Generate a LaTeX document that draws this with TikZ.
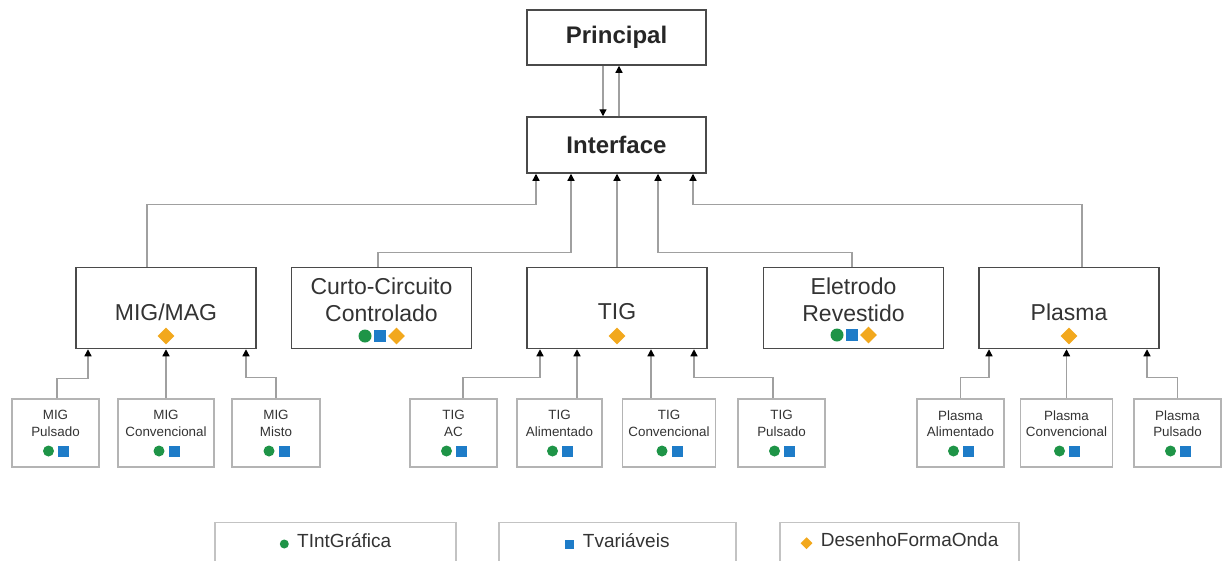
\documentclass[tikz,border=0pt]{standalone}
\usepackage{fontspec}
\setmainfont{Liberation Sans}
\usetikzlibrary{arrows.meta,shapes.geometric}
\definecolor{lgreen}{HTML}{1E9447}
\definecolor{lblue}{HTML}{1E7CC8}
\definecolor{lorange}{HTML}{F2A81D}
\definecolor{linegray}{HTML}{A0A0A0}
\definecolor{boxdark}{HTML}{4A4A4A}
\definecolor{boxlight}{HTML}{B4B4B4}
\definecolor{txt}{HTML}{333333}
\tikzset{
  topbox/.style={draw=boxdark,line width=1.5pt,minimum width=179pt,minimum height=55pt,inner sep=0pt,font=\fontsize{24}{28}\selectfont\bfseries,text=black!85},
  midbox/.style={draw=boxdark,line width=1.5pt,minimum width=180pt,minimum height=81pt,inner sep=0pt},
  midtxt/.style={font=\fontsize{23}{27}\selectfont,text=txt,align=center,inner sep=0pt},
  smallbox/.style={draw=boxlight,line width=1.2pt,minimum height=68pt,inner sep=0pt},
  smalltxt/.style={font=\fontsize{13.4}{16.5}\selectfont,text=txt,align=center,inner sep=0pt},
  legbox/.style={draw=boxlight!80,line width=1.2pt,minimum width=241pt,minimum height=60pt,inner sep=0pt,anchor=north},
  legtxt/.style={font=\fontsize{19}{22}\selectfont,text=txt,inner sep=0pt},
  conn/.style={draw=linegray,line width=1.3pt},
  arr/.style={conn,-{Triangle[width=7pt,length=7pt,black]}},
  gdot/.style={circle,fill=lgreen,minimum size=#1,inner sep=0pt},
  bsq/.style={rectangle,fill=lblue,minimum size=#1,inner sep=0pt},
  odia/.style={diamond,fill=lorange,minimum width=#1,minimum height=#1,inner sep=0pt},
}
\begin{document}
\begin{tikzpicture}[x=1pt,y=-1pt]
\useasboundingbox (0,0) rectangle (1229,560);
\clip (0,0) rectangle (1229,560);
% top boxes
\node[topbox] (prin) at (616.5,37.5) {Principal};
\node[topbox,minimum height=56pt] (iface) at (616.5,145) {Interface};
\draw[arr] ([xshift=-13.5pt]prin.south) -- ([xshift=-13.5pt]iface.north);
\draw[arr] ([xshift=2.5pt]iface.north) -- ([xshift=2.5pt]prin.south);
% mid boxes
\node[midbox] (mig) at (166,308) {};
\node[midbox] (cc) at (381.5,308) {};
\node[midbox] (tig) at (617,308) {};
\node[midbox] (ele) at (853.5,308) {};
\node[midbox] (pla) at (1069,308) {};
\node[midtxt] (migt) at ([yshift=-4pt]mig.center) {MIG/MAG};
\node[midtxt] (cct) at ([yshift=8.5pt]cc.center) {Curto-Circuito\\Controlado};
\node[midtxt] (tigt) at ([yshift=-4pt]tig.center) {TIG};
\node[midtxt] (elet) at ([yshift=8pt]ele.center) {Eletrodo\\Revestido};
\node[midtxt] (plat) at ([yshift=-4pt]pla.center) {Plasma};
% mid icons
\node[odia=17pt] (migd) at ([yshift=-28pt]mig.center) {};
\node[odia=17pt] (tigd) at ([yshift=-28pt]tig.center) {};
\node[odia=17pt] (plad) at ([yshift=-28pt]pla.center) {};
\node[gdot=13pt] (ccg) at ([xshift=-16.5pt,yshift=-28pt]cc.center) {};
\node[bsq=12pt] (ccb) at ([xshift=-2pt,yshift=-28pt]cc.center) {};
\node[odia=17pt] (cco) at ([xshift=15pt,yshift=-28pt]cc.center) {};
\node[gdot=13pt] (eleg) at ([xshift=-16.5pt,yshift=-27pt]ele.center) {};
\node[bsq=12pt] (eleb) at ([xshift=-2pt,yshift=-27pt]ele.center) {};
\node[odia=17pt] (eleo) at ([xshift=15pt,yshift=-27pt]ele.center) {};
% mid -> interface
\draw[arr] ([xshift=-19pt]mig.north) -- ++(0,-62) -| ([xshift=-80.5pt]iface.south);
\draw[arr] ([xshift=-3.5pt]cc.north) -- ++(0,-14) -| ([xshift=-45.5pt]iface.south);
\draw[arr] (tig.north) -- (tig.north |- iface.south);
\draw[arr] ([xshift=-1.5pt]ele.north) -- ++(0,-14) -| ([xshift=41.5pt]iface.south);
\draw[arr] ([xshift=13pt]pla.north) -- ++(0,-62) -| ([xshift=76.5pt]iface.south);
% small boxes
\foreach \n/\cx/\w/\ta/\tb in {
  mp/55.5/87/MIG/Pulsado, mc/166/96/MIG/Convencional, mm/276/88/MIG/Misto,
  ta/453.5/87/TIG/AC, tal/559.5/85/TIG/Alimentado, tc/669/93/TIG/Convencional, tp/781.5/87/TIG/Pulsado,
  pa/960.5/87/Plasma/Alimentado, pc/1066.5/92/Plasma/Convencional, pp/1177.5/87/Plasma/Pulsado}{
  \node[smallbox,minimum width=\w pt] (\n) at (\cx,433) {};
  \node[smalltxt] (\n t) at ([yshift=9.5pt]\n.center) {\ta\\\tb};
  \node[gdot=11pt] (\n g) at ([xshift=-7pt,yshift=-18pt]\n.center) {};
  \node[bsq=11pt] (\n b) at ([xshift=8pt,yshift=-18pt]\n.center) {};
}
% small -> mid
\draw[arr] ([xshift=1.5pt]mp.north) -- ++(0,-20) -| ([xshift=-78pt]mig.south);
\draw[arr] (mc.north) -- (mc.north |- mig.south);
\draw[arr] (mm.north) -- ++(0,-21) -| ([xshift=80pt]mig.south);
\draw[arr] ([xshift=9.5pt]ta.north) -- ++(0,-21) -| ([xshift=-77pt]tig.south);
\draw[arr] ([xshift=17.5pt]tal.north) -- ([xshift=17.5pt]tal.north |- tig.south);
\draw[arr] ([xshift=-18pt]tc.north) -- ([xshift=-18pt]tc.north |- tig.south);
\draw[arr] ([xshift=-8.5pt]tp.north) -- ++(0,-21) -| ([xshift=77pt]tig.south);
\draw[arr] (pa.north) -- ++(0,-21) -| ([xshift=-80pt]pla.south);
\draw[arr] (pc.north) -- (pc.north |- pla.south);
\draw[arr] (pp.north) -- ++(0,-21) -| ([xshift=78pt]pla.south);
% legend
\node[legbox] (l1) at (335.5,522) {};
\node[legbox,minimum width=237pt] (l2) at (617.5,522) {};
\node[legbox,minimum width=239pt] (l3) at (899.5,522) {};
\node[legtxt] (l1t) at ([yshift=-19pt]l1.north) {\tikz[baseline=-3.5pt]\node[gdot=9pt]{};\, TIntGráfica};
\node[legtxt] (l2t) at ([yshift=-19pt]l2.north) {\tikz[baseline=-3.5pt]\node[bsq=9pt]{};\, Tvariáveis};
\node[legtxt] (l3t) at ([yshift=-19pt]l3.north) {\tikz[baseline=-3.5pt]\node[odia=12pt]{};\, DesenhoFormaOnda};
\end{tikzpicture}
\end{document}
